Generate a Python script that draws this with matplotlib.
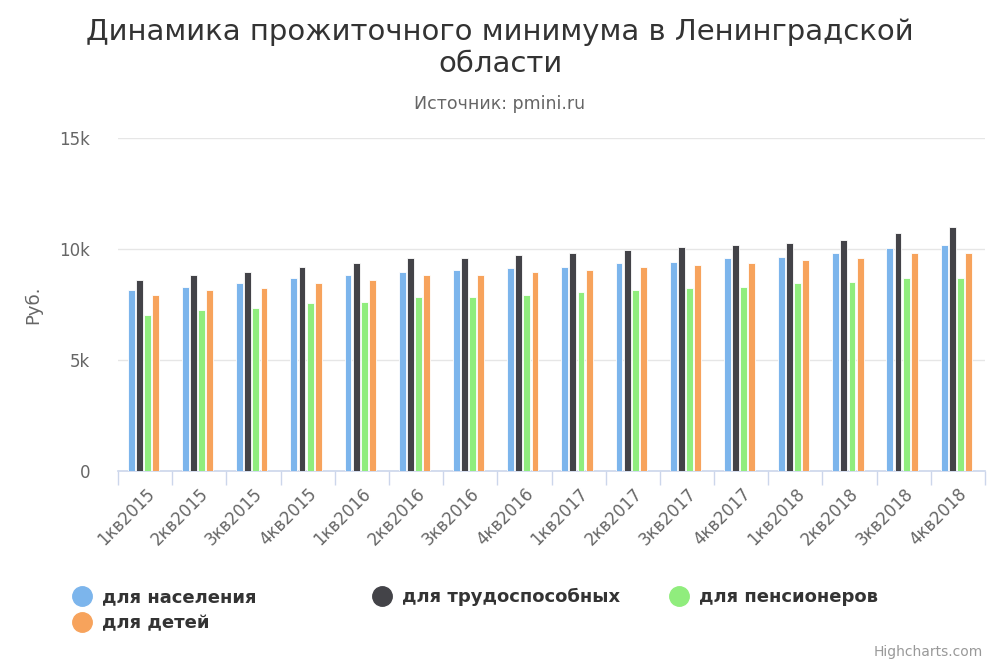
import numpy as np
import matplotlib.pyplot as plt
from matplotlib.lines import Line2D

quarters = ["1кв2015", "2кв2015", "3кв2015", "4кв2015",
            "1кв2016", "2кв2016", "3кв2016", "4кв2016",
            "1кв2017", "2кв2017", "3кв2017", "4кв2017",
            "1кв2018", "2кв2018", "3кв2018", "4кв2018"]

population = [8150, 8300, 8450, 8680, 8830, 8980, 9050, 9130,
              9200, 9350, 9430, 9580, 9650, 9800, 10030, 10180]
working = [8600, 8830, 8980, 9200, 9350, 9580, 9580, 9730,
           9800, 9950, 10100, 10180, 10250, 10400, 10700, 11000]
pensioners = [7030, 7250, 7330, 7550, 7630, 7850, 7850, 7930,
              8080, 8150, 8230, 8300, 8450, 8530, 8680, 8680]
children = [7930, 8150, 8230, 8450, 8600, 8830, 8830, 8980,
            9050, 9200, 9280, 9350, 9500, 9580, 9800, 9800]

series_names = ["для населения", "для трудоспособных", "для пенсионеров", "для детей"]
series_colors = ["#7cb5ec", "#434348", "#90ed7d", "#f7a35c"]

AXIS_COLOR = "#ccd6eb"
TEXT_COLOR = "#666666"


def main():
    plt.rcParams["font.family"] = ["DejaVu Sans"]
    fig = plt.figure(figsize=(10, 6.67), dpi=100)
    ax = fig.add_axes([0.118, 0.294, 0.867, 0.499])

    x = np.arange(len(quarters))
    all_series = [population, working, pensioners, children]
    slot = 0.15
    for i, (vals, color, name) in enumerate(zip(all_series, series_colors, series_names)):
        offset = -0.33 + slot * (i + 0.5)
        ax.bar(x + offset, vals, width=slot * 0.85, color=color,
               edgecolor="white", linewidth=0.6, label=name, zorder=3)

    ax.set_xlim(-0.5, len(quarters) - 0.5)
    ax.set_ylim(0, 15000)
    ax.set_yticks([0, 5000, 10000, 15000])
    ax.set_yticklabels(["0", "5k", "10k", "15k"], fontsize=12, color=TEXT_COLOR)
    ax.yaxis.grid(True, color="#e6e6e6", linewidth=1, zorder=0)
    ax.tick_params(axis="y", length=0, pad=20)

    # category boundary ticks
    ax.set_xticks(np.arange(-0.5, len(quarters) + 0.5, 1), minor=True)
    ax.set_xticks(x)
    ax.set_xticklabels(quarters, rotation=45, ha="right", va="top",
                       rotation_mode="anchor", fontsize=12, color=TEXT_COLOR)
    ax.tick_params(axis="x", which="major", length=0, pad=10)
    ax.tick_params(axis="x", which="minor", length=10, color=AXIS_COLOR, width=1)

    for side in ["top", "right", "left"]:
        ax.spines[side].set_visible(False)
    ax.spines["bottom"].set_color(AXIS_COLOR)
    ax.spines["bottom"].set_linewidth(1.2)

    ax.set_ylabel("Руб.", fontsize=13, color=TEXT_COLOR, labelpad=12)

    fig.text(0.5, 0.928, "Динамика прожиточного минимума в Ленинградской\nобласти",
             ha="center", va="center", fontsize=21, color="#333333", linespacing=1.2)
    fig.text(0.5, 0.844, "Источник: pmini.ru", ha="center", va="center",
             fontsize=12.5, color=TEXT_COLOR)

    # legend laid out in Highcharts-like columns
    handles = [Line2D([], [], marker="o", linestyle="", markersize=14,
                      markerfacecolor=c, markeredgecolor=c) for c in series_colors]
    columns = [([0, 3], 0.062), ([1], 0.362), ([2], 0.659)]
    for idxs, xpos in columns:
        leg = fig.legend([handles[i] for i in idxs], [series_names[i] for i in idxs],
                         loc="upper left", bbox_to_anchor=(xpos, 0.132),
                         frameon=False, handletextpad=0.5, handlelength=1.2,
                         labelspacing=0.45, borderpad=0,
                         prop={"size": 13, "weight": "bold"})
        for t in leg.get_texts():
            t.set_color("#333333")

    fig.text(0.983, 0.022, "Highcharts.com", ha="right", va="center",
             fontsize=10, color="#999999")

    fig.savefig("out.png", dpi=100)


if __name__ == "__main__":
    main()
